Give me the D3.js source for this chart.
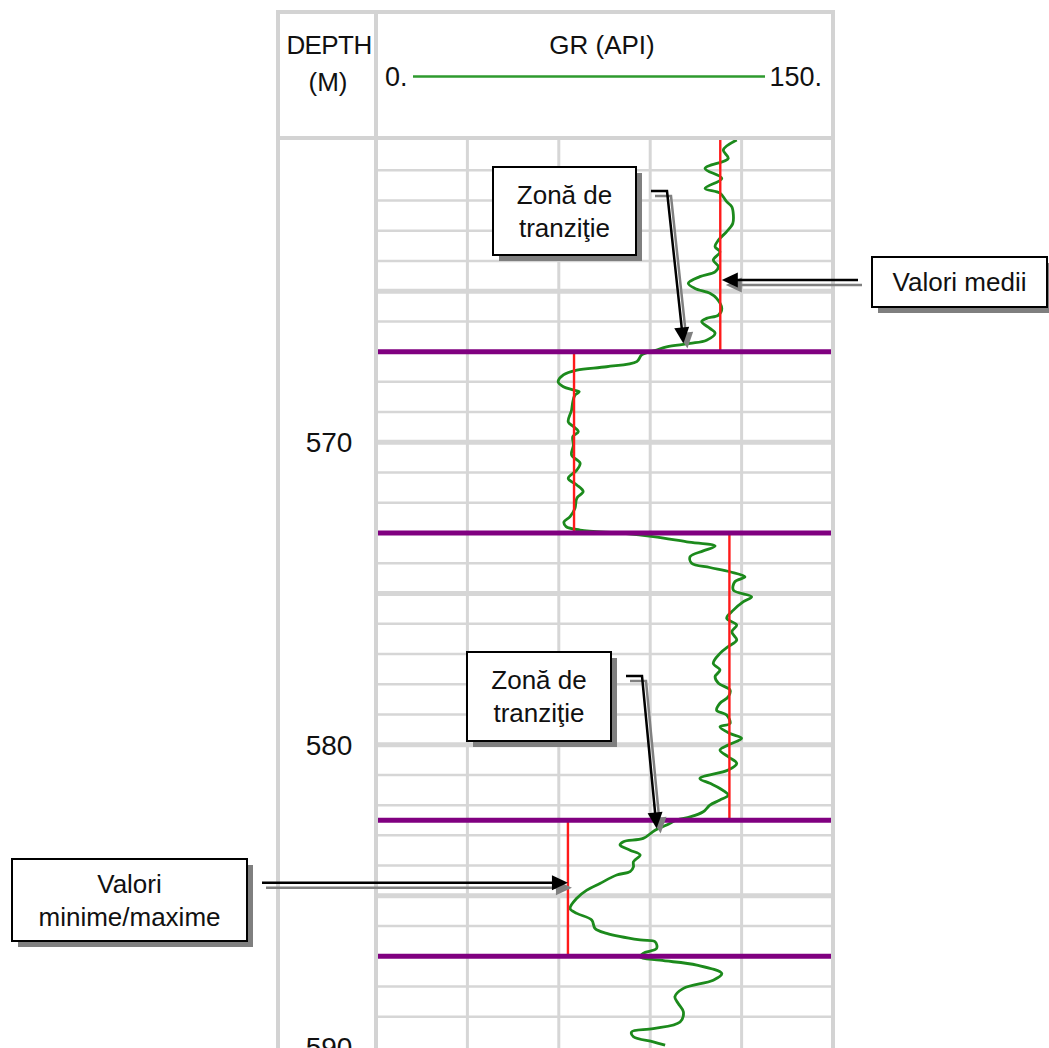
<!DOCTYPE html>
<html>
<head>
<meta charset="utf-8">
<script src="https://cdn.jsdelivr.net/npm/d3@7"></script>
<style>
  html, body { margin: 0; padding: 0; background: #fff; }
  svg { display: block; font-family: Arial, "Liberation Sans", sans-serif; }
</style>
</head>
<body>
<svg id="chart" width="1049" height="1048"></svg>
<script>
// ---- Track scales ----
const grDomain = [0, 150];
const depthDomain = [560, 590];
const grTickLabels = ["0.", "150."];
const grGridValues = [30, 60, 90, 120];
const depthLabels = [570, 580, 590];

// ---- Zone boundaries and reference levels (API) ----
const zoneBoundaries = [567, 573, 582.5, 587];
const zoneTop = [560, 567, 573, 582.5];
const zoneBase = [567, 573, 582.5, 587];
const zoneLevel = [113, 65, 116, 63];

// ---- Gamma-ray log samples ----
const logDepth = [
  560.00, 560.33, 560.61, 560.94, 561.27, 561.60, 561.76, 562.04, 562.21, 562.48,
  562.76, 563.03, 563.31, 563.53, 563.70, 563.97, 564.19, 564.36, 564.52, 564.74,
  564.91, 565.07, 565.24, 565.57, 565.79, 565.90, 566.01, 566.23, 566.39, 566.62,
  566.73, 566.84, 566.95, 567.11, 567.33, 567.50, 567.61, 567.77, 568.00, 568.16,
  568.27, 568.33, 568.44, 568.66, 568.93, 569.32, 569.48, 569.65, 569.81, 570.09,
  570.42, 570.69, 570.92, 571.19, 571.41, 571.63, 571.85, 572.18, 572.46, 572.63,
  572.79, 572.90, 573.01, 573.12, 573.29, 573.43, 573.59, 573.78, 574.00, 574.14,
  574.28, 574.45, 574.61, 574.89, 575.11, 575.27, 575.55, 575.82, 576.04, 576.27,
  576.54, 576.76, 576.98, 577.31, 577.53, 577.75, 577.97, 578.19, 578.42, 578.63,
  578.86, 579.02, 579.30, 579.41, 579.63, 579.79, 580.01, 580.18, 580.40, 580.62,
  580.84, 581.12, 581.28, 581.45, 581.67, 581.83, 582.00, 582.22, 582.39, 582.49,
  582.66, 582.83, 583.10, 583.21, 583.32, 583.49, 583.65, 583.87, 584.04, 584.20,
  584.31, 584.59, 584.81, 585.08, 585.42, 585.58, 585.80, 586.08, 586.24, 586.46,
  586.52, 586.74, 586.90, 587.02, 587.13, 587.29, 587.57, 587.79, 588.06, 588.34,
  588.56, 588.84, 589.17, 589.39, 589.50, 589.66, 589.83, 589.94
];
const logGR = [
  118.4, 114.0, 115.6, 108.0, 113.5, 108.0, 112.9, 115.1, 116.8, 117.3,
  117.1, 115.1, 112.4, 111.3, 112.9, 110.7, 112.4, 111.3, 106.3, 102.5,
  104.7, 109.6, 111.8, 113.5, 112.4, 108.5, 106.9, 109.6, 111.3, 108.5,
  103.1, 95.4, 92.1, 87.2, 85.6, 75.7, 65.9, 61.5, 59.8, 61.5,
  64.8, 66.7, 65.3, 64.6, 64.2, 63.1, 64.8, 66.4, 64.6, 64.8,
  64.2, 67.0, 65.9, 63.1, 65.9, 68.0, 65.9, 65.3, 63.7, 61.7,
  62.4, 67.0, 81.2, 91.0, 102.0, 111.3, 107.4, 103.1, 103.6, 109.6,
  116.2, 121.1, 117.8, 117.3, 123.3, 120.6, 117.3, 115.1, 118.4, 116.8,
  118.4, 115.6, 112.9, 110.7, 112.9, 111.3, 112.4, 116.2, 115.6, 112.9,
  111.8, 115.1, 116.2, 112.9, 116.2, 120.0, 115.6, 112.9, 115.6, 118.4,
  115.6, 106.3, 109.6, 112.9, 115.6, 112.9, 109.6, 107.4, 103.1, 98.7,
  95.4, 91.6, 87.7, 81.2, 80.1, 83.4, 86.7, 84.5, 84.5, 83.4,
  79.0, 73.5, 69.2, 65.9, 63.7, 65.9, 70.8, 71.9, 75.7, 86.7,
  91.6, 92.1, 87.7, 86.7, 93.2, 105.3, 113.5, 110.7, 100.9, 98.1,
  99.2, 100.9, 99.8, 91.0, 83.9, 84.5, 91.0, 94.9
];

// ---- Callouts: text, box frame, and the log point each arrow designates ----
const callouts = [
  { lines: ["Zonă de", "tranziţie"], box: { x: 493, y: 167, w: 143, h: 88 },
    target: { gr: 100.9, depth: 566.73 }, kind: "elbow" },
  { lines: ["Valori medii"], box: { x: 872, y: 257, w: 175, h: 50 },
    target: { gr: 113.5, depth: 564.63 }, kind: "left" },
  { lines: ["Zonă de", "tranziţie"], box: { x: 467, y: 652, w: 144, h: 89 },
    target: { gr: 92.1, depth: 582.77 }, kind: "elbow" },
  { lines: ["Valori", "minime/maxime"], box: { x: 12, y: 859, w: 235, h: 82 },
    target: { gr: 63, depth: 584.57 }, kind: "right" }
];

// ---- Layout ----
const frameLeft = 278, trackLeft = 376, trackRight = 833;
const frameTop = 12, headerBottom = 138, pageBottom = 1048;
const gridColor = "#d6d6d6";

const svg = d3.select("#chart");
const x = d3.scaleLinear().domain(grDomain).range([trackLeft, trackRight]);
const y = d3.scaleLinear().domain(depthDomain).range([140, 1047]);

svg.append("rect").attr("width", 1049).attr("height", 1048).attr("fill", "#fff");

// Grid: depth lines every metre, heavier every 5 m
const gridDepths = d3.range(561, 590);
svg.append("g").selectAll("line").data(gridDepths).join("line")
  .attr("x1", trackLeft).attr("x2", trackRight)
  .attr("y1", d => y(d)).attr("y2", d => y(d))
  .attr("stroke", gridColor)
  .attr("stroke-width", d => d % 5 === 0 ? 5 : 2.5);

// Grid: GR divisions
svg.append("g").selectAll("line").data(grGridValues).join("line")
  .attr("x1", d => x(d)).attr("x2", d => x(d))
  .attr("y1", headerBottom).attr("y2", pageBottom)
  .attr("stroke", gridColor).attr("stroke-width", 3);

// Frame
const frame = svg.append("g").attr("stroke", "#d3d3d3").attr("stroke-width", 4);
frame.append("line").attr("x1", frameLeft).attr("x2", trackRight + 2).attr("y1", frameTop).attr("y2", frameTop);
frame.append("line").attr("x1", frameLeft).attr("x2", trackRight + 2).attr("y1", headerBottom).attr("y2", headerBottom);
frame.append("line").attr("x1", frameLeft).attr("x2", frameLeft).attr("y1", frameTop - 2).attr("y2", pageBottom);
frame.append("line").attr("x1", trackLeft).attr("x2", trackLeft).attr("y1", frameTop - 2).attr("y2", pageBottom);
frame.append("line").attr("x1", trackRight).attr("x2", trackRight).attr("y1", frameTop - 2).attr("y2", pageBottom);

// Header
const header = svg.append("g").attr("fill", "#111").attr("font-size", 26);
header.append("text").attr("x", 329).attr("y", 54).attr("text-anchor", "middle")
  .attr("letter-spacing", -0.6).text("DEPTH");
header.append("text").attr("x", 328).attr("y", 91).attr("text-anchor", "middle").text("(M)");
header.append("text").attr("x", 602).attr("y", 54).attr("text-anchor", "middle").text("GR (API)");
header.append("text").attr("x", 385).attr("y", 86).attr("font-size", 27).text(grTickLabels[0]);
header.append("text").attr("x", 822).attr("y", 86).attr("font-size", 27).attr("text-anchor", "end").text(grTickLabels[1]);
header.append("line").attr("x1", 413).attr("x2", 765).attr("y1", 76.5).attr("y2", 76.5)
  .attr("stroke", "#2e9a2e").attr("stroke-width", 2.5);

// Depth labels (the deepest one runs past the bottom of the page)
svg.append("g").selectAll("text").data(depthLabels).join("text")
  .attr("x", 329).attr("y", d => y(d))
  .attr("dy", "0.36em")
  .attr("text-anchor", "middle").attr("font-size", 28).attr("fill", "#111")
  .text(d => d);

// Clip for the log track
svg.append("clipPath").attr("id", "track-clip")
  .append("rect").attr("x", trackLeft).attr("y", headerBottom + 2)
  .attr("width", trackRight - trackLeft).attr("height", pageBottom - headerBottom);

// GR curve
const logPoints = logDepth.map((d, i) => ({ depth: d, gr: logGR[i] }));
const line = d3.line().x(d => x(d.gr)).y(d => y(d.depth)).curve(d3.curveCatmullRom.alpha(0.5));
svg.append("path").datum(logPoints)
  .attr("clip-path", "url(#track-clip)")
  .attr("d", line).attr("fill", "none")
  .attr("stroke", "#1c8a1c").attr("stroke-width", 2.8).attr("stroke-linejoin", "round");

// Zone reference levels
svg.append("g").selectAll("line").data(zoneLevel).join("line")
  .attr("x1", d => x(d)).attr("x2", d => x(d))
  .attr("y1", (d, i) => y(zoneTop[i])).attr("y2", (d, i) => y(zoneBase[i]))
  .attr("stroke", "#ff1a1a").attr("stroke-width", 2.4);

// Zone boundaries
svg.append("g").selectAll("line").data(zoneBoundaries).join("line")
  .attr("x1", trackLeft + 2).attr("x2", trackRight - 2)
  .attr("y1", d => y(d)).attr("y2", d => y(d))
  .attr("stroke", "#800080").attr("stroke-width", 5);

// Callouts
const shadowDx = 4, shadowDy = 5;
function arrowHead(tip, from) {
  const ang = Math.atan2(tip[1] - from[1], tip[0] - from[0]);
  const L = 16, W = 7.5;
  const bx = tip[0] - L * Math.cos(ang), by = tip[1] - L * Math.sin(ang);
  const nx = -Math.sin(ang) * W, ny = Math.cos(ang) * W;
  return [[tip[0], tip[1]], [bx + nx, by + ny], [bx - nx, by - ny]];
}
function drawConnector(g, pts, color, width) {
  const tip = pts[pts.length - 1], prev = pts[pts.length - 2];
  const ang = Math.atan2(tip[1] - prev[1], tip[0] - prev[0]);
  const shaft = pts.slice(0, -1).concat([[tip[0] - 12 * Math.cos(ang), tip[1] - 12 * Math.sin(ang)]]);
  g.append("path").attr("d", d3.line()(shaft)).attr("fill", "none")
    .attr("stroke", color).attr("stroke-width", width);
  g.append("path").attr("d", d3.line()(arrowHead(tip, prev)) + "Z").attr("fill", color);
}

const cg = svg.append("g");
callouts.forEach(c => {
  const b = c.box;
  const tip = [x(c.target.gr), y(c.target.depth)];
  let pts;
  if (c.kind === "elbow") {
    const ly = b.y + 24;
    pts = [[b.x + b.w + 15, ly], [b.x + b.w + 31, ly], tip];
  } else if (c.kind === "left") {
    pts = [[b.x - 14, tip[1]], tip];
  } else {
    pts = [[b.x + b.w + 15, tip[1]], tip];
  }
  const g = cg.append("g");
  drawConnector(g, pts.map(p => [p[0] + shadowDx, p[1] + shadowDy]), "#808080", 2.5);
  drawConnector(g, pts, "#000", 2.5);

  g.append("rect").attr("x", b.x + 6).attr("y", b.y + 6).attr("width", b.w).attr("height", b.h)
    .attr("fill", "#7f7f7f");
  g.append("rect").attr("x", b.x).attr("y", b.y).attr("width", b.w).attr("height", b.h)
    .attr("fill", "#fff").attr("stroke", "#000").attr("stroke-width", 2);
  const lh = 33;
  const cy = b.y + b.h / 2;
  const t = g.append("text").attr("text-anchor", "middle").attr("font-size", 26).attr("fill", "#111");
  c.lines.forEach((s, i) => {
    t.append("tspan").attr("x", b.x + b.w / 2)
      .attr("y", cy + (i - (c.lines.length - 1) / 2) * lh)
      .attr("dy", "0.36em").text(s);
  });
});
</script>
</body>
</html>
